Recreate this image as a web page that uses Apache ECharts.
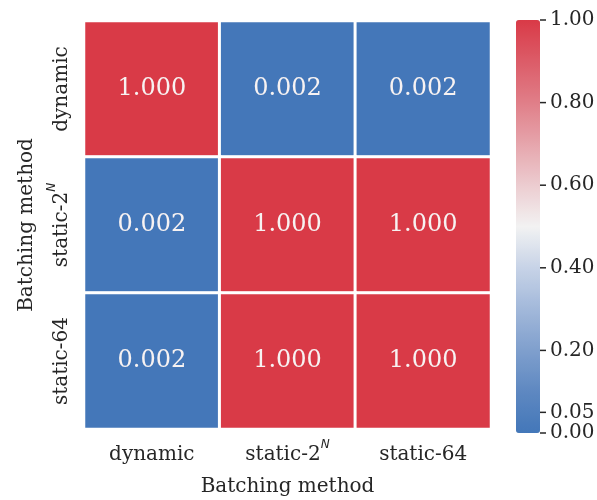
<!DOCTYPE html>
<html>
<head>
<meta charset="utf-8">
<script src="https://cdn.jsdelivr.net/npm/echarts@6/dist/echarts.min.js"></script>
<style>html,body{margin:0;padding:0;background:#fff}#c{width:597px;height:500px}</style>
</head>
<body>
<div id="c"></div>
<script>
const categories = ['dynamic', 'static-2N', 'static-64'];
const rowDynamic = [1.000, 0.002, 0.002];
const rowStatic2N = [0.002, 1.000, 1.000];
const rowStatic64 = [0.002, 1.000, 1.000];
const rows = [rowDynamic, rowStatic2N, rowStatic64];
const colorbarTicks = [0, 0.05, 0.2, 0.4, 0.6, 0.8, 1.0];
const axisTitle = 'Batching method';

const FONT = 'DejaVu Serif';
const TXT = '#262626';
const heatData = [];
rows.forEach((r, yi) => r.forEach((v, xi) => heatData.push([xi, yi, v])));

function catFmt(v) {
  if (v === 'static-2N') return '{b|static-2}{s|N}';
  return '{b|' + v + '}';
}
const rich = {
  b: { fontSize: 20, fontFamily: FONT, color: TXT, lineHeight: 26, verticalAlign: 'bottom' },
  s: { fontSize: 12, fontFamily: 'DejaVu Sans', fontStyle: 'italic', color: TXT, lineHeight: 26, verticalAlign: 'top' }
};

const chart = echarts.init(document.getElementById('c'));
chart.setOption({
  animation: false,
  backgroundColor: '#ffffff',
  grid: [
    { left: 84, top: 21, width: 407, height: 408, outerBoundsMode: 'none', containLabel: false },
    { left: 516, top: 20, width: 24, height: 413, outerBoundsMode: 'none', containLabel: false }
  ],
  xAxis: [
    {
      type: 'category', data: categories, gridIndex: 0,
      axisLine: { show: false }, axisTick: { show: false }, splitLine: { show: false },
      axisLabel: { formatter: catFmt, rich: rich, margin: 10 },
      name: axisTitle, nameLocation: 'middle', nameGap: 48,
      nameTextStyle: { fontSize: 20, fontFamily: FONT, color: TXT }
    },
    { type: 'value', gridIndex: 1, show: false, min: 0, max: 1 }
  ],
  yAxis: [
    {
      type: 'category', data: categories, gridIndex: 0, inverse: true,
      axisLine: { show: false }, axisTick: { show: false }, splitLine: { show: false },
      axisLabel: { formatter: catFmt, rich: rich, rotate: 90, margin: 12 },
      name: axisTitle, nameLocation: 'middle', nameGap: 47, nameRotate: 90,
      nameTextStyle: { fontSize: 20, fontFamily: FONT, color: TXT }
    },
    {
      type: 'value', gridIndex: 1, min: 0, max: 1, position: 'right',
      axisLine: { show: false }, splitLine: { show: false },
      axisTick: { show: false },
      axisLabel: { customValues: colorbarTicks, formatter: v => v.toFixed(2), fontSize: 20, fontFamily: FONT, color: TXT, margin: 10 }
    }
  ],
  visualMap: {
    type: 'continuous', min: 0, max: 1, seriesIndex: 0, calculable: false, show: true,
    orient: 'vertical', left: 516, top: 20, itemWidth: 24, itemHeight: 413, padding: 0,
    text: ['', ''], showLabel: false, hoverLink: false,
    inRange: { color: ['#4377b9', '#5e88c1', '#7f9fcd', '#a2b8da', '#c7d3e7', '#f2f2f2', '#ecccd0', '#e6a5ac', '#e07e88', '#dc5c68', '#d93a47'] }
  },
  series: [{
    type: 'heatmap', xAxisIndex: 0, yAxisIndex: 0, data: heatData,
    itemStyle: { borderColor: '#ffffff', borderWidth: 3 },
    label: { show: true, formatter: p => p.value[2].toFixed(3), fontSize: 24, fontFamily: FONT, color: '#f7f2f2' },
    emphasis: { disabled: true }
  }, {
    type: 'custom', xAxisIndex: 1, yAxisIndex: 1, silent: true, z: 10,
    data: colorbarTicks.map(v => [1, v]),
    renderItem: function (params, api) {
      const p = api.coord([api.value(0), api.value(1)]);
      return { type: 'line', shape: { x1: p[0], y1: p[1], x2: p[0] + 6, y2: p[1] }, style: { stroke: TXT, lineWidth: 1.5 } };
    }
  }]
});
</script>
</body>
</html>
